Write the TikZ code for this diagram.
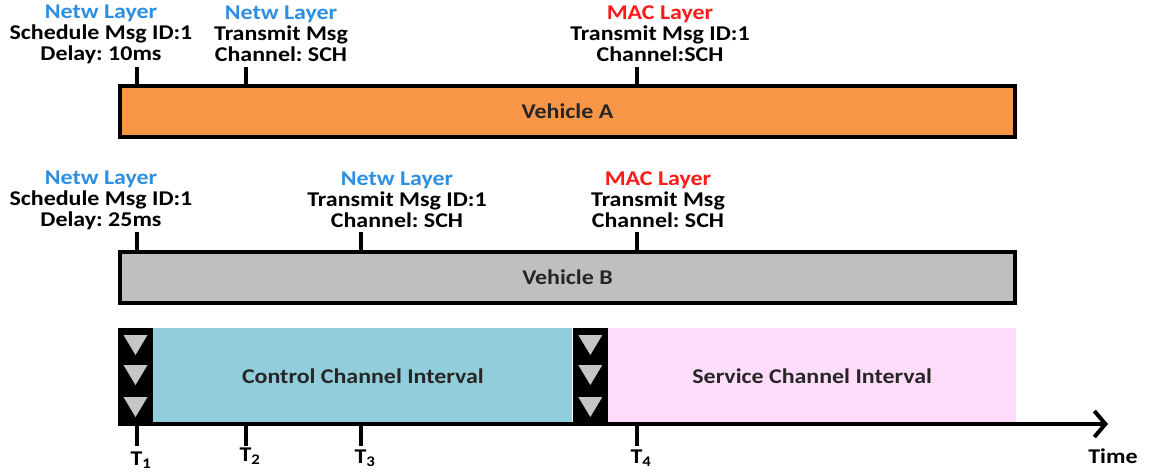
\documentclass[tikz,border=0pt]{standalone}
\usepackage{fontspec}
\setmainfont{Carlito}[FakeStretch=1.14]
\usepackage{xcolor}
\usetikzlibrary{arrows.meta}
\frenchspacing

\definecolor{netwblue}{HTML}{2E8FE0}
\definecolor{macred}{HTML}{FF1A1A}
\definecolor{vehA}{HTML}{F79646}
\definecolor{vehB}{HTML}{BFBFBF}
\definecolor{cchfill}{HTML}{92CDDC}
\definecolor{schfill}{HTML}{FFDCFC}

\tikzset{
	lbl/.style={font=\bfseries\fontsize{21}{21}\selectfont, align=center, inner sep=0pt},
	vehbox/.style={draw=black, line width=4pt, minimum width=895pt, minimum height=51pt, font=\bfseries\fontsize{21}{21}\selectfont, text=black!85},
	guard/.style={fill=black, minimum width=35pt, minimum height=96pt, inner sep=0pt},
	band/.style={minimum height=96pt, inner sep=0pt, font=\bfseries\fontsize{21}{21}\selectfont, text=black!85},
	tick/.style={line width=4pt},
	tlbl/.style={font=\bfseries\fontsize{21}{21}\selectfont, inner sep=0pt}
}

\newcommand{\netw}{{\color{netwblue}Netw Layer}}
\newcommand{\mac}{{\color{macred}MAC Layer}}

\begin{document}
\begin{tikzpicture}[x=1pt,y=-1pt]
		\useasboundingbox (0,0) rectangle (1149,472);

		% vehicle A
		\node[vehbox, fill=vehA] (vehA) at (567.5,111.5) {Vehicle A};
		\node[lbl] (a1) at (101, 34) {\netw\\Schedule Msg ID:1\\Delay: 10ms};
		\node[lbl] (a2) at (281, 34) {\netw\\Transmit Msg\\Channel: SCH};
		\node[lbl] (a3) at (660, 34) {\mac\\Transmit Msg ID:1\\Channel:SCH};
		\coordinate (ta1) at (137,67);
		\coordinate (ta2) at (246,67);
		\coordinate (ta3) at (637,67);
		\foreach \t in {ta1,ta2,ta3}
			\draw[tick] (\t) -- (\t |- vehA.north);

		% vehicle B
		\node[vehbox, fill=vehB] (vehB) at (567.5,277) {Vehicle B};
		\node[lbl] (b1) at (101,200) {\netw\\Schedule Msg ID:1\\Delay: 25ms};
		\node[lbl] (b2) at (397,200) {\netw\\Transmit Msg ID:1\\Channel: SCH};
		\node[lbl] (b3) at (658,200) {\mac\\Transmit Msg\\Channel: SCH};
		\coordinate (tb1) at (137,232);
		\coordinate (tb2) at (361,232);
		\coordinate (tb3) at (637,232);
		\foreach \t in {tb1,tb2,tb3}
			\draw[tick] (\t) -- (\t |- vehB.north);

		% channel intervals
		\node[guard] (g1) at (135.5,376) {};
		\node[band, fill=cchfill, minimum width=419pt, anchor=west] (cch) at (g1.east) {Control Channel Interval};
		\node[guard, anchor=west] (g2) at (cch.east) {};
		\node[band, fill=schfill, minimum width=408pt, anchor=west] (sch) at (g2.east) {Service Channel Interval};
		\foreach \g in {g1,g2}
			\foreach \dy in {-31,-1,31}
				\fill[gray!45] ([shift={(-12,\dy-10)}]\g.center) -- ([shift={(12,\dy-10)}]\g.center) -- ([shift={(0,\dy+10)}]\g.center) -- cycle;

		% time axis
		\coordinate (ax0) at (118,424);
		\coordinate (ax1) at (1108,424);
		\draw[line width=4pt, -{Straight Barb[length=11pt,width=26pt,line width=4pt]}] (ax0) -- (ax1);
		\coordinate (tt1) at (137,446);
		\coordinate (tt2) at (246,446);
		\coordinate (tt3) at (361,446);
		\coordinate (tt4) at (637,446);
		\foreach \t in {tt1,tt2,tt3,tt4}
			\draw[tick] (\t |- ax0) -- (\t);
		\node[tlbl] (t1) at (141,460) {T\textsubscript{1}};
		\node[tlbl] (t2) at (250,456) {T\textsubscript{2}};
		\node[tlbl] (t3) at (365,458) {T\textsubscript{3}};
		\node[tlbl] (t4) at (641,458) {T\textsubscript{4}};
		\node[tlbl] (time) at (1113,456) {Time};
	\end{tikzpicture}
\end{document}
